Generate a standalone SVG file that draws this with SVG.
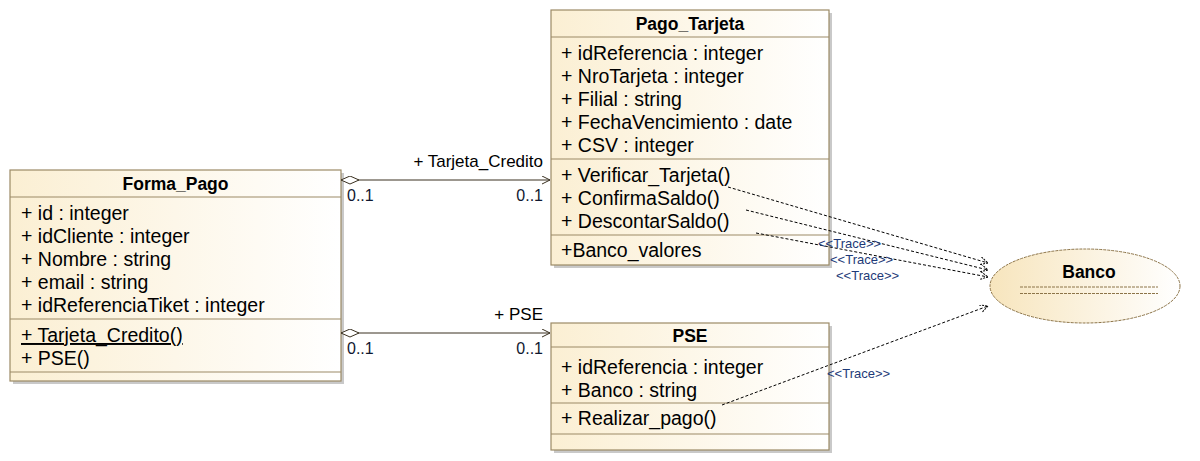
<svg xmlns="http://www.w3.org/2000/svg" width="1200" height="461" viewBox="0 0 1200 461">
<defs>
<linearGradient id="cls" x1="0" y1="0" x2="1" y2="0">
<stop offset="0" stop-color="#FBEFD3"/>
<stop offset="1" stop-color="#FFFFFF"/>
</linearGradient>
<linearGradient id="art" x1="0" y1="0" x2="1" y2="0">
<stop offset="0" stop-color="#F7E5BD"/>
<stop offset="1" stop-color="#FFFFFF"/>
</linearGradient>
<marker id="open" markerWidth="10" markerHeight="10" refX="8" refY="4" orient="auto" markerUnits="userSpaceOnUse">
<path d="M0,0 L8,4 L0,8" fill="none" stroke="#3a3020" stroke-width="1"/>
</marker>
<marker id="trace" markerWidth="10" markerHeight="10" refX="8" refY="4" orient="auto" markerUnits="userSpaceOnUse">
<path d="M0,0 L8,4 L0,8" fill="none" stroke="#000" stroke-width="1" stroke-dasharray="2,1"/>
</marker>
<marker id="diamond" markerWidth="20" markerHeight="10" refX="0" refY="4" orient="auto" markerUnits="userSpaceOnUse">
<path d="M0,4 L9,0 L18,4 L9,8 Z" fill="#fff" stroke="#3a3020" stroke-width="1"/>
</marker>
</defs>
<style>
.box{fill:url(#cls);stroke:#9C8A66;stroke-width:1.2}
.shadow{fill:#c9c9c9}
.sep{stroke:#9C8A66;stroke-width:1.2}
.title{font-family:"Liberation Sans",Arial,sans-serif;font-weight:bold;font-size:17.5px;fill:#000;text-anchor:middle}
.t{font-family:"Liberation Sans",Arial,sans-serif;font-size:19.5px;fill:#000}
.lbl{font-family:"Liberation Sans",Arial,sans-serif;font-size:17px;fill:#000}
.mult{font-family:"Liberation Sans",Arial,sans-serif;font-size:16px;fill:#101830}
.tr{font-family:"Liberation Sans",Arial,sans-serif;font-size:13px;fill:#1E3A78}
.assoc{stroke:#3a3020;stroke-width:1;fill:none}
.dep{stroke:#000;stroke-width:1;fill:none;stroke-dasharray:3,2}
</style>

<g id="Pago_Tarjeta">
<rect class="shadow" x="554" y="13" width="278" height="255"/>
<rect class="box" x="551" y="10" width="278" height="255"/>
<line class="sep" x1="551" y1="37" x2="829" y2="37"/>
<line class="sep" x1="551" y1="159" x2="829" y2="159"/>
<line class="sep" x1="551" y1="235" x2="829" y2="235"/>
<text class="title" x="690" y="30">Pago_Tarjeta</text>
<text class="t" x="561" y="60">+ idReferencia : integer</text>
<text class="t" x="561" y="83">+ NroTarjeta : integer</text>
<text class="t" x="561" y="106">+ Filial : string</text>
<text class="t" x="561" y="129">+ FechaVencimiento : date</text>
<text class="t" x="561" y="152">+ CSV : integer</text>
<text class="t" x="561" y="182">+ Verificar_Tarjeta()</text>
<text class="t" x="561" y="205">+ ConfirmaSaldo()</text>
<text class="t" x="561" y="228">+ DescontarSaldo()</text>
<text class="t" x="561" y="257">+Banco_valores</text>
</g>

<g id="Forma_Pago">
<rect class="shadow" x="13" y="173" width="331" height="211"/>
<rect class="box" x="10" y="170" width="331" height="211"/>
<line class="sep" x1="10" y1="197" x2="341" y2="197"/>
<line class="sep" x1="10" y1="319" x2="341" y2="319"/>
<line class="sep" x1="10" y1="372" x2="341" y2="372"/>
<text class="title" x="175.5" y="190">Forma_Pago</text>
<text class="t" x="21" y="220">+ id : integer</text>
<text class="t" x="21" y="243">+ idCliente : integer</text>
<text class="t" x="21" y="266">+ Nombre : string</text>
<text class="t" x="21" y="289">+ email : string</text>
<text class="t" x="21" y="312">+ idReferenciaTiket : integer</text>
<text class="t" x="21" y="342" text-decoration="underline">+ Tarjeta_Credito()</text>
<text class="t" x="21" y="365">+ PSE()</text>
</g>

<g id="PSE">
<rect class="shadow" x="554" y="326" width="278" height="127"/>
<rect class="box" x="551" y="323" width="278" height="127"/>
<line class="sep" x1="551" y1="347" x2="829" y2="347"/>
<line class="sep" x1="551" y1="403" x2="829" y2="403"/>
<line class="sep" x1="551" y1="434" x2="829" y2="434"/>
<text class="title" x="690" y="342">PSE</text>
<text class="t" x="561" y="374">+ idReferencia : integer</text>
<text class="t" x="561" y="397">+ Banco : string</text>
<text class="t" x="561" y="425">+ Realizar_pago()</text>
</g>

<g id="Banco">
<ellipse cx="1085" cy="286" rx="95" ry="37" fill="url(#art)" stroke="#8C7448" stroke-width="1" stroke-dasharray="3,1"/>
<text class="title" x="1089" y="278" font-size="17px">Banco</text>
<line x1="1020" y1="287" x2="1158" y2="287" stroke="#8C7448" stroke-width="1" stroke-dasharray="3,1"/>
<line x1="1020" y1="293.5" x2="1158" y2="293.5" stroke="#8C7448" stroke-width="1" stroke-dasharray="3,1"/>
</g>

<g id="connectors">
<line class="assoc" x1="341" y1="180" x2="550" y2="180" marker-start="url(#diamond)" marker-end="url(#open)"/>
<text class="lbl" x="543" y="167" text-anchor="end">+ Tarjeta_Credito</text>
<text class="mult" x="347" y="201">0..1</text>
<text class="mult" x="543" y="201" text-anchor="end">0..1</text>

<line class="assoc" x1="341" y1="333" x2="550" y2="333" marker-start="url(#diamond)" marker-end="url(#open)"/>
<text class="lbl" x="543" y="320" text-anchor="end">+ PSE</text>
<text class="mult" x="347" y="354">0..1</text>
<text class="mult" x="543" y="354" text-anchor="end">0..1</text>

<line class="dep" x1="728" y1="187" x2="988" y2="263" marker-end="url(#trace)"/>
<line class="dep" x1="746" y1="210" x2="988" y2="270" marker-end="url(#trace)"/>
<line class="dep" x1="756" y1="233" x2="988" y2="277" marker-end="url(#trace)"/>
<line class="dep" x1="722" y1="405" x2="988" y2="306" marker-end="url(#trace)"/>
<text class="tr" x="818" y="248">&lt;&lt;Trace&gt;&gt;</text>
<text class="tr" x="830" y="264">&lt;&lt;Trace&gt;&gt;</text>
<text class="tr" x="836" y="280">&lt;&lt;Trace&gt;&gt;</text>
<text class="tr" x="827" y="378">&lt;&lt;Trace&gt;&gt;</text>
</g>
</svg>
